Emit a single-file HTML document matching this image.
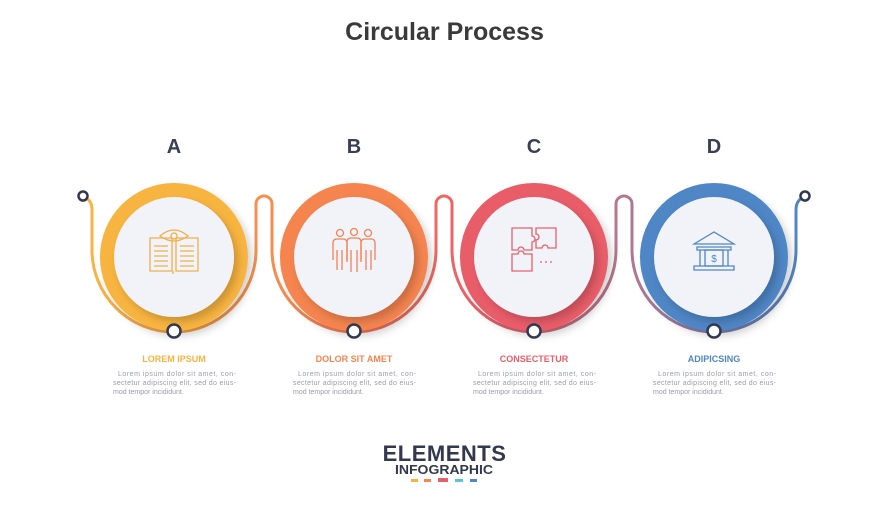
<!DOCTYPE html>
<html><head><meta charset="utf-8"><style>
body{margin:0;background:#fff;width:889px;height:500px;overflow:hidden;font-family:"Liberation Sans",sans-serif}
</style></head><body>
<svg width="889" height="500" viewBox="0 0 889 500" xmlns="http://www.w3.org/2000/svg" font-family="Liberation Sans, sans-serif">
<defs>
<linearGradient id="lg" x1="0" x2="1" y1="0" y2="0">
<stop offset="0" stop-color="#f8b545"/><stop offset="0.3" stop-color="#f5874f"/><stop offset="0.55" stop-color="#ea5f68"/><stop offset="0.75" stop-color="#b47890"/><stop offset="1" stop-color="#4f86c6"/>
</linearGradient>
<filter id="sh" x="-30%" y="-30%" width="160%" height="160%"><feDropShadow dx="4" dy="5" stdDeviation="4" flood-color="#000" flood-opacity="0.18"/></filter>
</defs>
<text x="444.5" y="40" text-anchor="middle" font-size="25" font-weight="bold" fill="#3a3a3a">Circular Process</text>
<g font-size="20" font-weight="bold" fill="#3b3f54" text-anchor="middle">
<text x="174" y="153">A</text><text x="354" y="153">B</text><text x="534" y="153">C</text><text x="714" y="153">D</text></g>
<path d="M84,197 Q92,200 92,210 L92,250 A82,82 0 0 0 256,250 L256,204 A8,8 0 0 1 272,204 L272,250 A82,82 0 0 0 436,250 L436,204 A8,8 0 0 1 452,204 L452,250 A82,82 0 0 0 616,250 L616,204 A8,8 0 0 1 632,204 L632,250 A82,82 0 0 0 796,250 L796,210 Q796,200 804,197" fill="none" stroke="url(#lg)" stroke-width="3"/>
<circle cx="83" cy="196" r="4.5" fill="#fff" stroke="#33384f" stroke-width="2.5"/>
<circle cx="805" cy="196" r="4.5" fill="#fff" stroke="#33384f" stroke-width="2.5"/>
<g>
<circle cx="174" cy="257" r="74" fill="#f8b440" filter="url(#sh)"/>
<circle cx="354" cy="257" r="74" fill="#f5844f" filter="url(#sh)"/>
<circle cx="534" cy="257" r="74" fill="#e95d69" filter="url(#sh)"/>
<circle cx="714" cy="257" r="74" fill="#4f86c6" filter="url(#sh)"/>
</g>
<g fill="#f1f3f9" filter="url(#sh)">
<circle cx="174" cy="257" r="60"/><circle cx="354" cy="257" r="60"/><circle cx="534" cy="257" r="60"/><circle cx="714" cy="257" r="60"/>
</g>
<g fill="#fff" stroke="#33384f" stroke-width="2.5">
<circle cx="174" cy="331" r="6.5"/><circle cx="354" cy="331" r="6.5"/><circle cx="534" cy="331" r="6.5"/><circle cx="714" cy="331" r="6.5"/>
</g>
<g fill="none" stroke="#f0b04c" stroke-width="1.3">
<path d="M150,238 h22 v33 h-22 z M176,238 h22 v33 h-22 z M173,271 v3"/>
<path d="M160,236 Q174,224 188,236 Q174,246 160,236 z"/><circle cx="174" cy="236" r="3"/>
<path d="M154,246h14M154,251h14M154,256h14M154,261h14M154,266h14M180,246h14M180,251h14M180,256h14M180,261h14M180,266h14"/>
</g>
<g fill="none" stroke="#f0845a" stroke-width="1.3">
<circle cx="340" cy="233" r="3.5"/><circle cx="354" cy="232" r="3.5"/><circle cx="368" cy="233" r="3.5"/>
<path d="M333,260 v-17 q0,-4 4,-4 h6 q4,0 4,4 v17 M337,250v20M342,250v20"/>
<path d="M347,262 v-20 q0,-4 4,-4 h6 q4,0 4,4 v20 M351,250v22M357,250v22"/>
<path d="M361,260 v-17 q0,-4 4,-4 h6 q4,0 4,4 v17 M366,250v20M371,250v20"/>
</g>
<g fill="none" stroke="#e66170" stroke-width="1.3">
<path d="M512,228 h20 v8 a3,3 0 0 1 0,6 v8 h-8 a3,3 0 0 0 -6,0 h-6 z"/>
<path d="M536,228 h20 v20 h-8 a3,3 0 0 0 -6,0 h-6 v-8 a3,3 0 0 0 0,-6 z"/>
<path d="M512,254 h6 a3,3 0 0 1 6,0 h8 v17 h-20 z"/>
<path d="M540,262 h2M545,262 h2M550,262 h2"/>
</g>
<g fill="none" stroke="#4f86c6" stroke-width="1.3">
<path d="M694,244 L714,232 L734,244 z M697,247 h34 v3 h-34 z M700,250 v16 M728,250 v16 M694,266 h40 v4 h-40 z"/>
<rect x="705" y="250" width="18" height="16"/>
<text x="714" y="262" font-size="10" fill="#4f86c6" stroke="none" text-anchor="middle">$</text>
</g>
<g font-size="9" font-weight="bold" text-anchor="middle">
<text x="174" y="362" fill="#f8b440">LOREM IPSUM</text>
<text x="354" y="362" fill="#f5844f">DOLOR SIT AMET</text>
<text x="534" y="362" fill="#e95d69">CONSECTETUR</text>
<text x="714" y="362" fill="#4f86c6">ADIPICSING</text>
</g>
<g font-size="7" fill="#9a9cab">
<text x="118" y="376" textLength="118" lengthAdjust="spacing">Lorem ipsum dolor sit amet, con-</text><text x="113" y="385" textLength="123" lengthAdjust="spacing">sectetur adipiscing elit, sed do eius-</text><text x="113" y="394">mod tempor incididunt.</text>
<text x="298" y="376" textLength="118" lengthAdjust="spacing">Lorem ipsum dolor sit amet, con-</text><text x="293" y="385" textLength="123" lengthAdjust="spacing">sectetur adipiscing elit, sed do eius-</text><text x="293" y="394">mod tempor incididunt.</text>
<text x="478" y="376" textLength="118" lengthAdjust="spacing">Lorem ipsum dolor sit amet, con-</text><text x="473" y="385" textLength="123" lengthAdjust="spacing">sectetur adipiscing elit, sed do eius-</text><text x="473" y="394">mod tempor incididunt.</text>
<text x="658" y="376" textLength="118" lengthAdjust="spacing">Lorem ipsum dolor sit amet, con-</text><text x="653" y="385" textLength="123" lengthAdjust="spacing">sectetur adipiscing elit, sed do eius-</text><text x="653" y="394">mod tempor incididunt.</text>
</g>
<text x="444.5" y="461" text-anchor="middle" font-size="22" font-weight="bold" fill="#33384f" letter-spacing="0.5">ELEMENTS</text>
<text x="395" y="474" font-size="13" font-weight="bold" fill="#33384f" textLength="98" lengthAdjust="spacingAndGlyphs">INFOGRAPHIC</text>
<rect x="411" y="479" width="7" height="3" fill="#f8b440"/>
<rect x="424" y="479" width="7" height="3" fill="#f5844f"/>
<rect x="438" y="478" width="10" height="4" fill="#e95d69"/>
<rect x="455" y="479" width="8" height="3" fill="#4ec9d4"/>
<rect x="470" y="479" width="7" height="3" fill="#4f86c6"/>
</svg>
</body></html>
